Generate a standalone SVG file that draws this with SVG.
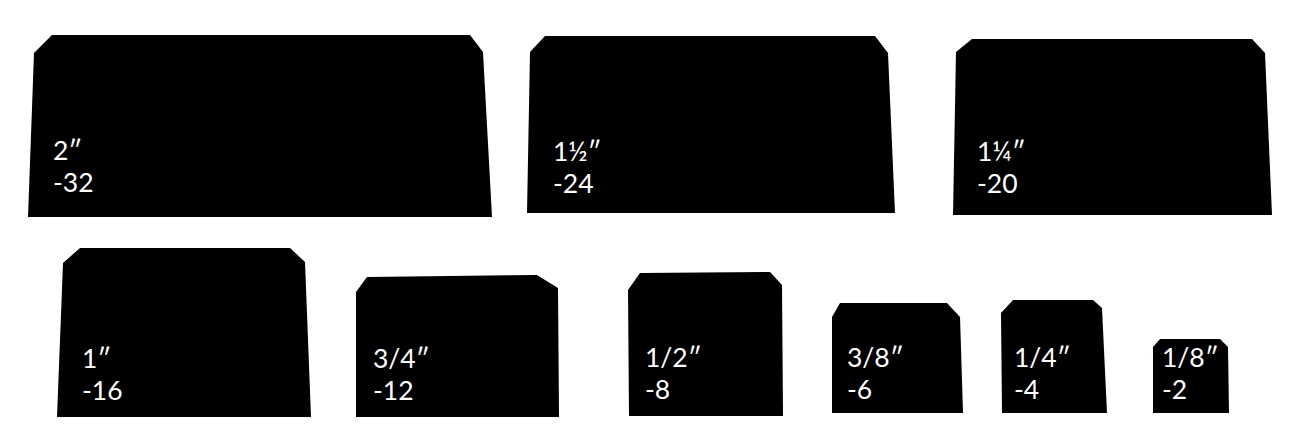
<svg xmlns="http://www.w3.org/2000/svg" width="1309" height="440" viewBox="0 0 1309 440">
<style>
.blk{fill:#000;stroke:none}
.lbl{fill:#fff;font-family:Lato,"Open Sans",sans-serif;font-size:26.5px}
</style>
<rect width="1309" height="440" fill="#fff"/>
<g id="n-2in">
<polygon class="blk" points="34,53 52,35 470,35 483,52 492,217 28,217"/>
<text class="lbl" x="53" y="160">2″</text>
<text class="lbl" x="53" y="192">-32</text>
</g>
<g id="n-1-1-2in">
<polygon class="blk" points="530,52 545,36 875,36 888,53 895,213 527,213"/>
<text class="lbl" x="553" y="161">1½″</text>
<text class="lbl" x="553" y="193">-24</text>
</g>
<g id="n-1-1-4in">
<polygon class="blk" points="956,52 972,39 1252,39 1265,53 1272,215 953,215"/>
<text class="lbl" x="977" y="161">1¼″</text>
<text class="lbl" x="977" y="193">-20</text>
</g>
<g id="n-1in">
<polygon class="blk" points="63,263 80,248 290,248 305,262 311,417 57,417"/>
<text class="lbl" x="82" y="368">1″</text>
<text class="lbl" x="82" y="400">-16</text>
</g>
<g id="n-3-4in">
<polygon class="blk" points="356,292 367,277 537,275 558,288 559,417 356,417"/>
<text class="lbl" x="373" y="368">3/4″</text>
<text class="lbl" x="373" y="400">-12</text>
</g>
<g id="n-1-2in">
<polygon class="blk" points="628,290 640,273 770,272 782,285 783,416 629,416"/>
<text class="lbl" x="645" y="367">1/2″</text>
<text class="lbl" x="645" y="399">-8</text>
</g>
<g id="n-3-8in">
<polygon class="blk" points="832,317 840,303 947,303 960,317 963,413 832,413"/>
<text class="lbl" x="847" y="367">3/8″</text>
<text class="lbl" x="847" y="399">-6</text>
</g>
<g id="n-1-4in">
<polygon class="blk" points="1001,313 1013,300 1093,300 1102,308 1107,413 1002,413"/>
<text class="lbl" x="1014" y="367">1/4″</text>
<text class="lbl" x="1014" y="399">-4</text>
</g>
<g id="n-1-8in">
<polygon class="blk" points="1153,347 1160,339 1220,339 1228,347 1229,413 1153,413"/>
<text class="lbl" x="1162" y="367">1/8″</text>
<text class="lbl" x="1162" y="399">-2</text>
</g>
<g id="connectors"/>
</svg>
